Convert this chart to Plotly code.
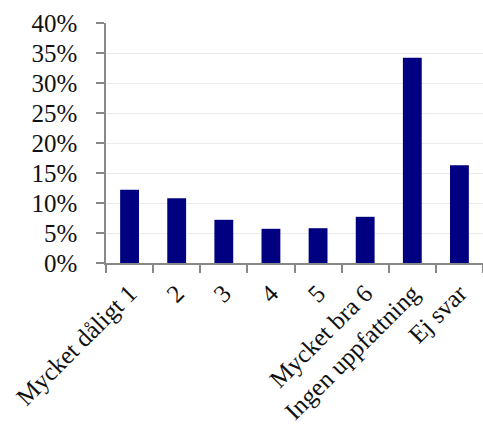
import plotly.graph_objects as go

categories = ["Mycket dåligt 1", "2", "3", "4", "5", "Mycket bra 6",
              "Ingen uppfattning", "Ej svar"]
shares = [0.122, 0.108, 0.072, 0.057, 0.058, 0.077, 0.342, 0.163]
y_ticks = [0, 0.05, 0.10, 0.15, 0.20, 0.25, 0.30, 0.35, 0.40]
y_tick_labels = ["0%", "5%", "10%", "15%", "20%", "25%", "30%", "35%", "40%"]

font = dict(family="Liberation Serif, Times New Roman, serif", size=25, color="#111111")

fig = go.Figure(go.Bar(
    x=categories,
    y=shares,
    width=0.4,
    marker=dict(color="#000080", line=dict(width=0)),
))

fig.update_layout(
    width=483,
    height=432,
    margin=dict(l=106, r=0, t=23, b=169),
    plot_bgcolor="white",
    paper_bgcolor="white",
    font=font,
    showlegend=False,
    bargap=0.6,
)

fig.update_xaxes(
    type="category",
    tickangle=-45,
    ticks="outside",
    tickson="boundaries",
    ticklen=8,
    tickcolor="#888888",
    tickwidth=1.5,
    ticklabelstandoff=4,
    showline=True,
    linecolor="#888888",
    linewidth=1.5,
    showgrid=False,
    automargin=False,
    tickfont=font,
)

fig.update_yaxes(
    range=[0, 0.4],
    tickvals=y_ticks,
    ticktext=y_tick_labels,
    ticks="outside",
    ticklen=8,
    tickcolor="#888888",
    tickwidth=1.5,
    ticklabelstandoff=14,
    showline=True,
    linecolor="#888888",
    linewidth=1.5,
    showgrid=True,
    gridcolor="#ebebeb",
    gridwidth=1,
    zeroline=False,
    automargin=False,
    tickfont=font,
)

fig.write_html("out.html")
